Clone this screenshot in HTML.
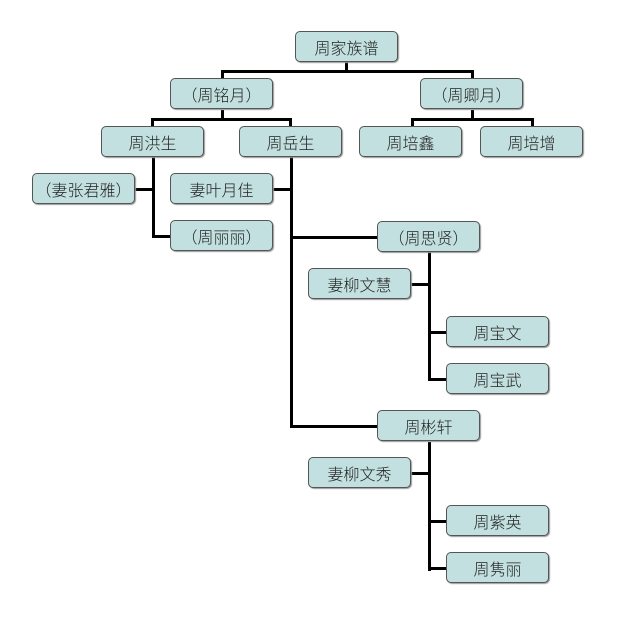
<!DOCTYPE html>
<html><head><meta charset="utf-8"><style>
body{margin:0;width:629px;height:618px;background:#fff;position:relative;overflow:hidden;font-family:"Liberation Sans","Noto Sans CJK SC",sans-serif}
.b{position:absolute;width:101px;height:29px;background:#c2e0df;border:1.5px solid #555;border-radius:5px;box-sizing:content-box;text-align:center;line-height:35px;font-size:16px;font-weight:300;color:#222;box-shadow:1px 1px 1px #999}
.l{position:absolute;background:#000}
</style></head><body>
<div class="l" style="left:345px;top:62px;width:3px;height:10px"></div>
<div class="l" style="left:221px;top:70px;width:253px;height:3px"></div>
<div class="l" style="left:221px;top:70px;width:3px;height:10px"></div>
<div class="l" style="left:471px;top:70px;width:3px;height:10px"></div>
<div class="l" style="left:221px;top:110px;width:3px;height:10px"></div>
<div class="l" style="left:151px;top:118px;width:141px;height:3px"></div>
<div class="l" style="left:151px;top:118px;width:3px;height:9px"></div>
<div class="l" style="left:289px;top:118px;width:3px;height:9px"></div>
<div class="l" style="left:471px;top:110px;width:3px;height:10px"></div>
<div class="l" style="left:411px;top:118px;width:123px;height:3px"></div>
<div class="l" style="left:411px;top:118px;width:3px;height:9px"></div>
<div class="l" style="left:531px;top:118px;width:3px;height:9px"></div>
<div class="l" style="left:152px;top:157px;width:3px;height:81px"></div>
<div class="l" style="left:135px;top:188px;width:18px;height:3px"></div>
<div class="l" style="left:152px;top:235px;width:19px;height:3px"></div>
<div class="l" style="left:290px;top:157px;width:3px;height:271px"></div>
<div class="l" style="left:273px;top:188px;width:18px;height:3px"></div>
<div class="l" style="left:290px;top:236px;width:88px;height:3px"></div>
<div class="l" style="left:290px;top:425px;width:88px;height:3px"></div>
<div class="l" style="left:428px;top:252px;width:3px;height:129px"></div>
<div class="l" style="left:411px;top:283px;width:18px;height:3px"></div>
<div class="l" style="left:428px;top:331px;width:19px;height:3px"></div>
<div class="l" style="left:428px;top:378px;width:19px;height:3px"></div>
<div class="l" style="left:428px;top:442px;width:3px;height:129px"></div>
<div class="l" style="left:411px;top:472px;width:18px;height:3px"></div>
<div class="l" style="left:428px;top:520px;width:19px;height:3px"></div>
<div class="l" style="left:428px;top:567px;width:19px;height:3px"></div>
<div class="b" style="left:295px;top:31px">周家族谱</div>
<div class="b" style="left:170px;top:78px">（周铭月）</div>
<div class="b" style="left:420px;top:78px">（周卿月）</div>
<div class="b" style="left:101px;top:126px">周洪生</div>
<div class="b" style="left:239px;top:126px">周岳生</div>
<div class="b" style="left:359px;top:126px">周培鑫</div>
<div class="b" style="left:480px;top:126px">周培增</div>
<div class="b" style="left:32px;top:173px">（妻张君雅）</div>
<div class="b" style="left:170px;top:173px">妻叶月佳</div>
<div class="b" style="left:170px;top:220px">（周丽丽）</div>
<div class="b" style="left:377px;top:221px">（周思贤）</div>
<div class="b" style="left:308px;top:268px">妻柳文慧</div>
<div class="b" style="left:446px;top:316px">周宝文</div>
<div class="b" style="left:446px;top:363px">周宝武</div>
<div class="b" style="left:377px;top:410px">周彬轩</div>
<div class="b" style="left:308px;top:457px">妻柳文秀</div>
<div class="b" style="left:446px;top:505px">周紫英</div>
<div class="b" style="left:446px;top:552px">周隽丽</div>
</body></html>
